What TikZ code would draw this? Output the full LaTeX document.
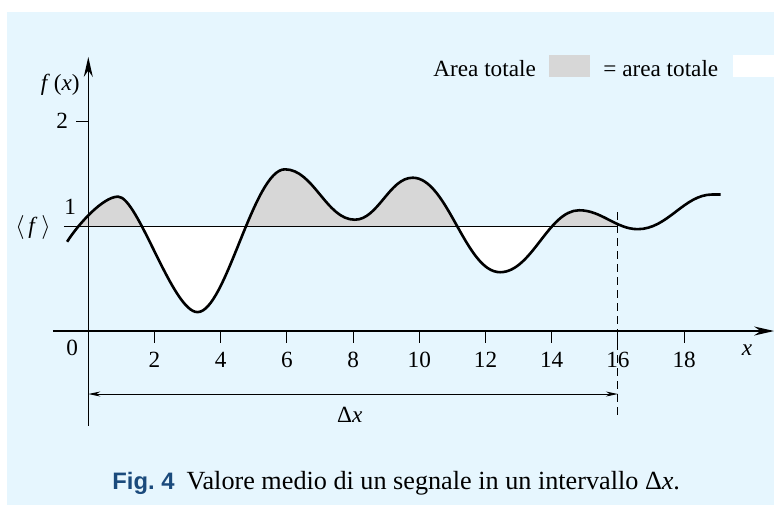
\documentclass[tikz,border=0pt]{standalone}
\usepackage{fontspec}
\setmainfont{Liberation Serif}
\newfontfamily\sansdida{Liberation Sans}
\usetikzlibrary{arrows.meta, positioning}
\definecolor{pannello}{HTML}{E6F6FE}
\definecolor{grigioarea}{HTML}{D7D7D7}
\definecolor{blufig}{HTML}{1A4A7C}
\newcommand{\curvasegnale}{(-0.64,0.85) .. controls (-0.3,1.02) and (0.45,1.28) .. (0.9,1.28)
	.. controls (1.5,1.28) and (2.55,0.18) .. (3.3,0.18)
	.. controls (4.15,0.18) and (5.0,1.54) .. (5.94,1.54)
	.. controls (6.8,1.54) and (7.2,1.06) .. (8.05,1.06)
	.. controls (8.75,1.06) and (9.1,1.46) .. (9.8,1.46)
	.. controls (10.85,1.46) and (11.4,0.56) .. (12.44,0.56)
	.. controls (13.4,0.56) and (13.9,1.15) .. (14.83,1.15)
	.. controls (15.5,1.15) and (15.95,0.97) .. (16.6,0.97)
	.. controls (17.5,0.97) and (18,1.3) .. (18.85,1.3) -- (19.1,1.3)}
\tikzstyle{asse} = [line width=0.8pt]
\tikzstyle{tacca} = [line width=0.5pt]
\tikzstyle{etichetta} = [font=\fontsize{11.6}{13}\selectfont, inner sep=0pt]
\tikzstyle{segnale} = [line width=1.3pt, line join=round]
\tikzstyle{punta} = [-{Stealth[length=10pt,width=4.5pt]}]
\tikzstyle{quadretto} = [minimum width=20.5pt, minimum height=11pt, inner sep=0pt, anchor=south west]

\begin{document}
\begin{tikzpicture}[x=0.5pt, y=-0.5pt]
	\useasboundingbox (0,0) rectangle (774,505);
	\fill[pannello] (7,12) rectangle (774,505);
	\node[etichetta, anchor=base west] (legA) at (433,76) {Area totale};
	\node[quadretto, fill=grigioarea] (quadgrigio) at (549,77) {};
	\node[etichetta, anchor=base west] (legB) at (603,76) {= area totale};
	\node[quadretto, fill=white] (quadbianco) at (733,77) {};
	\node[etichetta, anchor=base west, font=\fontsize{13.1}{15}\selectfont] (didascalia) at (112,489) {{\sansdida\bfseries\fontsize{11.9}{15}\selectfont\color{blufig}Fig.~4}\hspace{6pt}Valore medio di un segnale in un intervallo Δ\textit{x}.};
	\begin{scope}[shift={(44.15pt,-165.5pt)}, x=16.55pt, y=52.5pt]
		\coordinate (O) at (0,0);
		\coordinate (xinizio) at (-1.07,0);
		\coordinate (xfine) at (20.72,0);
		\coordinate (yinizio) at (0,-0.9);
		\coordinate (yfine) at (0,2.61);
		\coordinate (dxa) at (0,-0.6);
		\coordinate (dxb) at (16,-0.6);
		\coordinate (tratto1) at (16,1.13);
		\coordinate (tratto2) at (16,-0.83);
		\begin{scope}
			\clip (-0.3,1) rectangle (16,3);
			\fill[grigioarea] \curvasegnale -- (19.1,1) -- (-0.64,1) -- cycle;
		\end{scope}
		\begin{scope}
			\clip (-0.3,-1) rectangle (16,1);
			\fill[white] \curvasegnale -- (19.1,1) -- (-0.64,1) -- cycle;
		\end{scope}
		\draw[tacca] (-0.74,1) -- (16,1);
		\draw[segnale] \curvasegnale;
		\draw[asse, punta] (xinizio) -- (xfine);
		\draw[asse, punta] (yinizio) -- (yfine);
		\draw[tacca] (-0.36,2) -- (0,2);
		\foreach \t in {2,4,...,18} {
			\draw[tacca] (\t,0) -- (\t,-0.114);
			\node[etichetta, anchor=base] (num\t) at (\t,-0.352) {\t};
		}
		\draw[tacca, dash pattern=on 4pt off 2.5pt] (tratto1) -- (tratto2);
		\draw[tacca, {Stealth[length=6pt,width=2.5pt]}-{Stealth[length=6pt,width=2.5pt]}] (dxa) -- (dxb);
		\node[etichetta, anchor=base] (deltax) at (7.9,-0.867) {Δ\textit{x}};
		\node[etichetta, anchor=base] (zero) at (-0.49,-0.229) {0};
		\node[etichetta, anchor=base] (xlab) at (19.9,-0.23) {\textit{x}};
		\node[etichetta, anchor=base] (uno) at (-0.55,1.105) {1};
		\node[etichetta, anchor=base] (due) at (-0.79,1.933) {2};
		\node[etichetta, anchor=base] (fx) at (-0.85,2.295) {\textit{f}\,(\textit{x})};
		\node[etichetta] (media) at (-1.67,0.99) {$\langle$\,\textit{f}\,$\rangle$};
	\end{scope}
\end{tikzpicture}
\end{document}
